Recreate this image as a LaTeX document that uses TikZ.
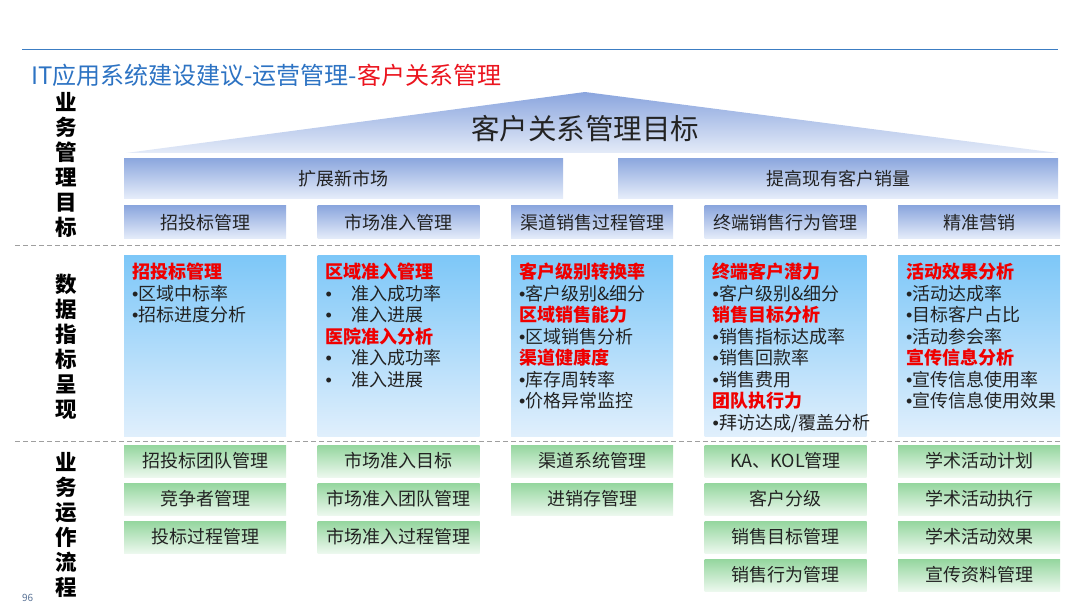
\documentclass[tikz,border=0pt]{standalone}
\usepackage{fontspec}
\setmainfont{Noto Sans CJK SC}
\newfontfamily\dotfont{Liberation Sans}
\definecolor{ink}{RGB}{35,35,35}
\definecolor{ruleBlue}{RGB}{60,125,195}
\definecolor{titleBlue}{RGB}{45,115,195}
\definecolor{titleRed}{RGB}{235,20,30}
\definecolor{kpiRed}{RGB}{240,0,0}
\definecolor{triTop}{RGB}{138,165,222}
\definecolor{triBot}{RGB}{228,235,248}
\definecolor{barTop}{RGB}{140,167,222}
\definecolor{barBot}{RGB}{230,237,250}
\definecolor{kpiTop}{RGB}{125,199,248}
\definecolor{kpiBot}{RGB}{224,239,252}
\definecolor{opsTop}{RGB}{148,214,158}
\definecolor{opsBot}{RGB}{236,248,238}
\definecolor{pageNo}{RGB}{90,115,150}
\newcommand\kh[1]{{\bfseries\color{kpiRed}#1}}
\newcommand\bul[1]{{\dotfont •}#1}
\begin{document}
\begin{tikzpicture}[x=1pt,y=-1pt,
  every node/.style={text=ink},
  goalbar/.style={top color=barTop, bottom color=barBot, inner sep=0, font=\fontsize{18}{20}\selectfont},
  kpibox/.style={top color=kpiTop, bottom color=kpiBot, anchor=north west, minimum width=162, minimum height=181, inner sep=0},
  kpitext/.style={anchor=north west, align=left, inner sep=0, font=\fontsize{18}{21.5}\selectfont},
  opsbox/.style={top color=opsTop, bottom color=opsBot, minimum width=162, minimum height=32, inner sep=0, font=\fontsize{18}{20}\selectfont},
  sidelabel/.style={align=center, inner sep=0, text=black, font=\fontsize{21.5}{25}\selectfont\bfseries},
  sepline/.style={gray!75, dash pattern=on 5pt off 3pt, line width=0.8pt}]
  \useasboundingbox (0,0) rectangle (1080,607);
  % heading
  \draw[ruleBlue, line width=1pt] (22,50) -- (1058,50);
  \node[anchor=west, inner sep=0, font=\fontsize{24}{26}\selectfont] (title) at (31,75)
    {\color{titleBlue}IT应用系统建设建议-运营管理-\color{titleRed}客户关系管理};
  \node[anchor=south west, inner sep=0, text=pageNo, font=\fontsize{10}{11}\selectfont] (page) at (22,602) {96};
  % roof
  \shade[top color=triTop, bottom color=triBot] (126,153) -- (585,92) -- (1058,153) -- cycle;
  \node[font=\fontsize{28.5}{30}\selectfont] (goal) at (585,129) {客户关系管理目标};
  \node[goalbar, minimum width=439, minimum height=40] (newmkt) at (343.5,178.5) {扩展新市场};
  \node[goalbar, minimum width=440, minimum height=40] (oldmkt) at (838,178.5) {提高现有客户销量};
  \foreach \c/\x/\t in {1/124/招投标管理, 2/317.5/市场准入管理, 3/511/渠道销售过程管理,
                        4/704.5/终端销售行为管理, 5/898/精准营销}{
     \node[goalbar, minimum width=162, minimum height=33] (aim\c) at (\x+81,222.5) {\t};
     \node[kpibox] (kpi\c) at (\x,255) {};}
  \draw[sepline] (15,245) -- (1062,245);
  \draw[sepline] (15,441) -- (1062,441);
  % side labels
  \node[sidelabel] (sideAim) at (66,165) {业\\务\\管\\理\\目\\标};
  \node[sidelabel] (sideKpi) at (66,347) {数\\据\\指\\标\\呈\\现};
  \node[sidelabel] (sideOps) at (66,525) {业\\务\\运\\作\\流\\程};
  % kpi texts
  \node[kpitext] (kpitext1) at ([xshift=8pt,yshift=-8pt]kpi1.north west)
    {\kh{招投标管理}\\\bul{区域中标率}\\\bul{招标进度分析}};
  \node[kpitext] (kpitext2) at ([xshift=8pt,yshift=-8pt]kpi2.north west)
    {\kh{区域准入管理}\\\bul{\hspace{19pt}准入成功率}\\\bul{\hspace{19pt}准入进展}\\\kh{医院准入分析}\\\bul{\hspace{19pt}准入成功率}\\\bul{\hspace{19pt}准入进展}};
  \node[kpitext] (kpitext3) at ([xshift=8pt,yshift=-8pt]kpi3.north west)
    {\kh{客户级别转换率}\\\bul{客户级别\&细分}\\\kh{区域销售能力}\\\bul{区域销售分析}\\\kh{渠道健康度}\\\bul{库存周转率}\\\bul{价格异常监控}};
  \node[kpitext] (kpitext4) at ([xshift=8pt,yshift=-8pt]kpi4.north west)
    {\kh{终端客户潜力}\\\bul{客户级别\&细分}\\\kh{销售目标分析}\\\bul{销售指标达成率}\\\bul{销售回款率}\\\bul{销售费用}\\\kh{团队执行力}\\\bul{拜访达成/覆盖分析}};
  \node[kpitext] (kpitext5) at ([xshift=8pt,yshift=-8pt]kpi5.north west)
    {\kh{活动效果分析}\\\bul{活动达成率}\\\bul{目标客户占比}\\\bul{活动参会率}\\\kh{宣传信息分析}\\\bul{宣传信息使用率}\\\bul{宣传信息使用效果}};
  % operations
  \foreach \c/\x/\items in {1/124/{招投标团队管理,竞争者管理,投标过程管理},
                            2/317.5/{市场准入目标,市场准入团队管理,市场准入过程管理},
                            3/511/{渠道系统管理,进销存管理},
                            4/704.5/{KA、KOL管理,客户分级,销售目标管理,销售行为管理},
                            5/898/{学术活动计划,学术活动执行,学术活动效果,宣传资料管理}}{
     \foreach \t [count=\r] in \items {
        \node[opsbox] (ops\c-\r) at (\x+81,461+38*\r-38) {\t};}}
\end{tikzpicture}
\end{document}
